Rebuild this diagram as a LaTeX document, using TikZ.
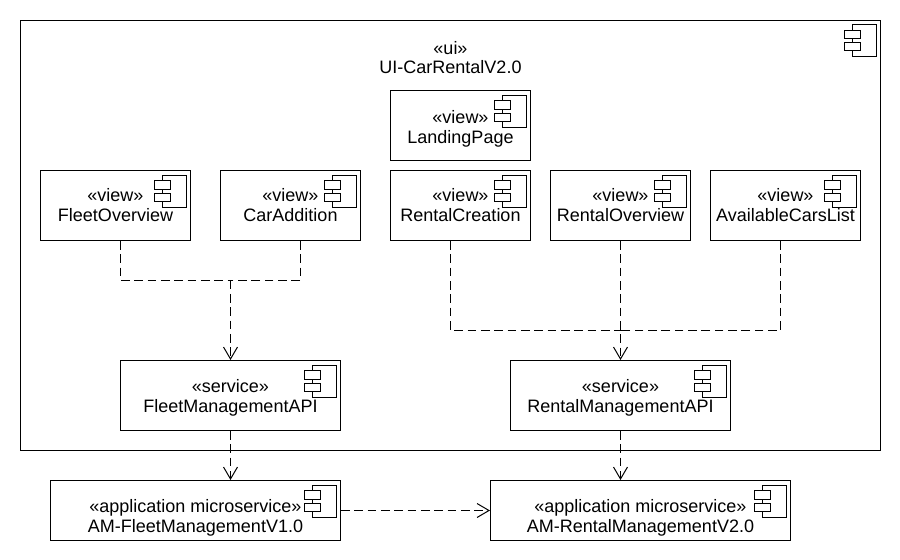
\documentclass[tikz,border=0pt]{standalone}
\usepackage{fontspec}
\setmainfont{Liberation Sans}
\usetikzlibrary{arrows.meta, calc}
\tikzset{
  comp/.style={rectangle, draw=black, fill=white, line width=0.75pt,
               minimum height=52.5pt, inner sep=0pt, align=center,
               font=\fontsize{13.5}{15}\selectfont},
  frame/.style={rectangle, draw=black, line width=0.75pt, inner sep=0pt},
  title/.style={align=center, inner sep=0pt, font=\fontsize{13.5}{14.25}\selectfont},
  dep/.style={line width=0.75pt, dash pattern=on 6.5pt off 3.5pt},
  deparrow/.style={dep, -{Straight Barb[length=9pt, width=10.5pt, line width=0.75pt]}},
  pics/compicon/.style={code={
    \draw[line width=0.75pt] (-29,5) rectangle (-4.5,37);
    \draw[line width=0.75pt, fill=white] (-37,10.5) rectangle (-21,19);
    \draw[line width=0.75pt, fill=white] (-37,23) rectangle (-21,31);
  }},
}
\begin{document}
\begin{tikzpicture}[x=0.75pt, y=-0.75pt]
  \useasboundingbox (-0.5,-0.5) rectangle (899.5,559.5);
  % ui frame
  \node[frame, minimum width=645pt, minimum height=322.5pt] (ui) at (450,235) {};
  \pic at (ui.north east) {compicon};
  \node[title] (uititle) at (450,57) {«ui»\\UI-CarRentalV2.0};
  % views
  \node[comp, minimum width=105pt] (landing) at (460,125) {\rule{0pt}{14.5pt}«view»\\LandingPage};
  \node[comp, minimum width=112.5pt] (fleetview) at (115,205) {«view»\\FleetOverview};
  \node[comp, minimum width=105pt] (caradd) at (290,205) {«view»\\CarAddition};
  \node[comp, minimum width=105pt] (rentcreate) at (460,205) {«view»\\RentalCreation};
  \node[comp, minimum width=105pt] (rentview) at (620,205) {«view»\\RentalOverview};
  \node[comp, minimum width=112.5pt] (carslist) at (785,205) {«view»\\AvailableCarsList};
  \pic at (landing.north east) {compicon};
  \pic at (fleetview.north east) {compicon};
  \pic at (caradd.north east) {compicon};
  \pic at (rentcreate.north east) {compicon};
  \pic at (rentview.north east) {compicon};
  \pic at (carslist.north east) {compicon};
  % services
  \node[comp, minimum width=165pt] (fleetapi) at (230,395) {\rule{0pt}{13pt}«service»\\FleetManagementAPI};
  \node[comp, minimum width=165pt] (rentapi) at (620,395) {\rule{0pt}{13pt}«service»\\RentalManagementAPI};
  \pic at (fleetapi.north east) {compicon};
  \pic at (rentapi.north east) {compicon};
  % microservices
  \node[comp, minimum width=217.5pt, minimum height=45pt] (amfleet) at (195,510)
    {\rule{0pt}{21.5pt}«application microservice»\\AM-FleetManagementV1.0};
  \node[comp, minimum width=225pt, minimum height=45pt] (amrent) at (640,510)
    {\rule{0pt}{21.5pt}«application microservice»\\AM-RentalManagementV2.0};
  \pic at (amfleet.north east) {compicon};
  \pic at (amrent.north east) {compicon};
  % dependencies
  \coordinate (fleetjoin) at (230,280);
  \coordinate (rentjoin) at (620,330);
  \draw[dep] ($(fleetview.south)+(5,0)$) |- (fleetjoin);
  \draw[dep] ($(caradd.south)+(10,0)$) |- (fleetjoin);
  \draw[deparrow] (fleetjoin) -- (fleetapi);
  \draw[dep] ($(rentcreate.south)+(-10,0)$) |- (rentjoin);
  \draw[dep] ($(carslist.south)+(-5,0)$) |- (rentjoin);
  \draw[deparrow] (rentview) -- (rentapi);
  \draw[deparrow] (fleetapi.south) -- (fleetapi.south |- amfleet.north);
  \draw[deparrow] (rentapi.south) -- (rentapi.south |- amrent.north);
  \draw[deparrow] (amfleet) -- (amrent);
\end{tikzpicture}
\end{document}
